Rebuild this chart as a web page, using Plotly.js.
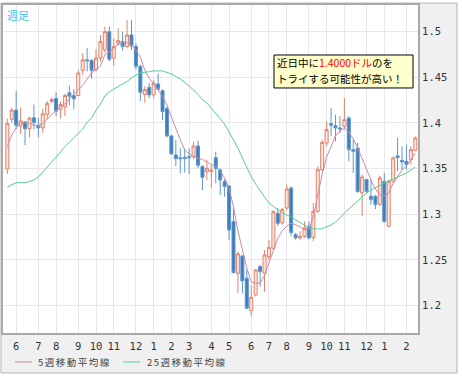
<!DOCTYPE html>
<html><head><meta charset="utf-8">
<script src="https://cdn.plot.ly/plotly-3.0.1.min.js"></script>
<style>html,body{margin:0;padding:0;background:#fff}#chart{width:462px;height:378px}</style>
</head><body><div id="chart"></div>
<script>
const weeks = [
'2009-05-18','2009-05-25','2009-06-01','2009-06-08','2009-06-15','2009-06-22','2009-06-29','2009-07-06','2009-07-13','2009-07-20',
'2009-07-27','2009-08-03','2009-08-10','2009-08-17','2009-08-24','2009-08-31','2009-09-07','2009-09-14','2009-09-21','2009-09-28',
'2009-10-05','2009-10-12','2009-10-19','2009-10-26','2009-11-02','2009-11-09','2009-11-16','2009-11-23','2009-11-30','2009-12-07',
'2009-12-14','2009-12-21','2009-12-28','2010-01-04','2010-01-11','2010-01-18','2010-01-25','2010-02-01','2010-02-08','2010-02-15',
'2010-02-22','2010-03-01','2010-03-08','2010-03-15','2010-03-22','2010-03-29','2010-04-05','2010-04-12','2010-04-19','2010-04-26',
'2010-05-03','2010-05-10','2010-05-17','2010-05-24','2010-05-31','2010-06-07','2010-06-14','2010-06-21','2010-06-28','2010-07-05',
'2010-07-12','2010-07-19','2010-07-26','2010-08-02','2010-08-09','2010-08-16','2010-08-23','2010-08-30','2010-09-06','2010-09-13',
'2010-09-20','2010-09-27','2010-10-04','2010-10-11','2010-10-18','2010-10-25','2010-11-01','2010-11-08','2010-11-15','2010-11-22',
'2010-11-29','2010-12-06','2010-12-13','2010-12-20','2010-12-27','2011-01-03','2011-01-10','2011-01-17','2011-01-24','2011-01-31',
'2011-02-07','2011-02-14','2011-02-21'];

const openP = [
1.3496,1.4040,1.4141,1.3967,1.4011,1.3938,1.4058,1.3975,1.3946,1.4094,
1.4232,1.4268,1.4149,1.4178,1.4330,1.4301,1.4301,1.4576,1.4692,1.4685,
1.4583,1.4710,1.4801,1.5000,1.4710,1.4873,1.4891,1.4837,1.4964,1.4837,
1.4620,1.4312,1.4391,1.4307,1.4427,1.4354,1.4161,1.3858,1.3650,1.3620,
1.3624,1.3631,1.3631,1.3748,1.3522,1.3467,1.3468,1.3620,1.3485,1.3358,
1.3310,1.2920,1.2354,1.2544,1.2299,1.1945,1.2117,1.2427,1.2354,1.2536,
1.2628,1.3011,1.2905,1.3069,1.3288,1.2777,1.2741,1.2759,1.2870,1.2745,
1.3033,1.3489,1.3781,1.3993,1.3971,1.3945,1.3964,1.4055,1.3708,1.3726,
1.3234,1.3380,1.3197,1.3197,1.3110,1.3360,1.2869,1.3361,1.3640,1.3591,
1.3580,1.3599,1.3701];
const highP = [
1.4047,1.4167,1.4348,1.4167,1.4022,1.4069,1.4203,1.4058,1.4156,1.4239,
1.4275,1.4337,1.4239,1.4319,1.4409,1.4373,1.4583,1.4764,1.4819,1.4699,
1.4808,1.4964,1.5054,1.5054,1.4928,1.5036,1.5000,1.5127,1.5127,1.4873,
1.4638,1.4402,1.4434,1.4471,1.4544,1.4369,1.4179,1.3869,1.3814,1.3723,
1.3723,1.3723,1.3796,1.3807,1.3540,1.3595,1.3540,1.3686,1.3504,1.3383,
1.3321,1.3066,1.2591,1.2555,1.2391,1.2226,1.2398,1.2445,1.2609,1.2719,
1.3040,1.3070,1.3069,1.3325,1.3307,1.2796,1.2814,1.2923,1.2923,1.3124,
1.3526,1.3818,1.4018,1.4164,1.4091,1.4073,1.4274,1.4073,1.3818,1.3781,
1.3434,1.3387,1.3380,1.3215,1.3423,1.3453,1.3380,1.3635,1.3840,1.3745,
1.3763,1.3745,1.3854];
const lowP = [
1.3442,1.4004,1.3931,1.3877,1.3757,1.3841,1.3931,1.3841,1.3895,1.4040,
1.4221,1.4076,1.4047,1.4076,1.4192,1.4149,1.4293,1.4529,1.4565,1.4482,
1.4565,1.4674,1.4764,1.4674,1.4627,1.4844,1.4793,1.4819,1.4801,1.4583,
1.4239,1.4221,1.4270,1.4270,1.4361,1.4033,1.3843,1.3650,1.3529,1.3449,
1.3456,1.3442,1.3602,1.3504,1.3266,1.3376,1.3285,1.3340,1.3212,1.3193,
1.2719,1.2354,1.2135,1.2135,1.1960,1.1880,1.2099,1.2208,1.2153,1.2500,
1.2610,1.2870,1.2887,1.3044,1.2760,1.2723,1.2723,1.2741,1.2723,1.2705,
1.3015,1.3471,1.3745,1.3854,1.3799,1.3891,1.3934,1.3580,1.3453,1.3234,
1.2978,1.3234,1.3106,1.3058,1.3090,1.2905,1.2861,1.3343,1.3470,1.3489,
1.3489,1.3544,1.3690];
const closeP = [
1.3996,1.4141,1.3975,1.4022,1.3938,1.4054,1.4004,1.3946,1.4101,1.4214,
1.4257,1.4130,1.4203,1.4301,1.4293,1.4264,1.4547,1.4692,1.4681,1.4576,
1.4710,1.4891,1.5000,1.4699,1.4837,1.4902,1.4837,1.4964,1.4844,1.4620,
1.4337,1.4366,1.4307,1.4434,1.4369,1.4124,1.3858,1.3661,1.3609,1.3609,
1.3609,1.3620,1.3748,1.3536,1.3405,1.3504,1.3485,1.3500,1.3376,1.3303,
1.2828,1.2361,1.2566,1.2270,1.1971,1.2091,1.2391,1.2372,1.2555,1.2639,
1.3029,1.2901,1.3051,1.3277,1.2800,1.2741,1.2759,1.2851,1.2741,1.3033,
1.3489,1.3788,1.3927,1.3974,1.3945,1.3934,1.4036,1.3708,1.3690,1.3250,
1.3409,1.3252,1.3161,1.3106,1.3398,1.2923,1.3361,1.3617,1.3620,1.3573,
1.3544,1.3708,1.3836];

const ma5 = [
1.3740,1.3869,1.3945,1.3995,1.4000,1.3997,1.3978,1.3967,1.3995,1.4044,
1.4088,1.4137,1.4175,1.4208,1.4263,1.4318,1.4367,1.4413,1.4482,1.4548,
1.4586,1.4624,1.4745,1.4778,1.4821,1.4865,1.4876,1.4880,1.4854,1.4800,
1.4720,1.4580,1.4490,1.4430,1.4362,1.4290,1.4197,1.4066,1.3934,1.3814,
1.3704,1.3660,1.3628,1.3617,1.3600,1.3573,1.3551,1.3521,1.3474,1.3398,
1.3288,1.3080,1.2817,1.2609,1.2412,1.2258,1.2244,1.2244,1.2335,1.2467,
1.2609,1.2740,1.2817,1.2872,1.2905,1.2883,1.2864,1.2828,1.2839,1.2974,
1.3211,1.3441,1.3628,1.3748,1.3858,1.3912,1.3942,1.3901,1.3825,1.3726,
1.3606,1.3485,1.3376,1.3277,1.3212,1.3200,1.3233,1.3340,1.3409,1.3485,
1.3529,1.3595,1.3671];
const ma25 = [
1.3299,1.3321,1.3346,1.3346,1.3346,1.3359,1.3376,1.3409,1.3463,1.3513,
1.3573,1.3631,1.3682,1.3743,1.3792,1.3836,1.3890,1.3934,1.4011,1.4055,
1.4142,1.4208,1.4296,1.4340,1.4372,1.4400,1.4433,1.4455,1.4493,1.4526,
1.4548,1.4559,1.4562,1.4570,1.4573,1.4570,1.4553,1.4537,1.4509,1.4482,
1.4444,1.4405,1.4361,1.4312,1.4257,1.4219,1.4164,1.4110,1.4055,1.3989,
1.3901,1.3814,1.3726,1.3617,1.3518,1.3412,1.3332,1.3255,1.3189,1.3124,
1.3080,1.3047,1.3014,1.2992,1.2970,1.2938,1.2910,1.2883,1.2855,1.2844,
1.2839,1.2844,1.2861,1.2883,1.2916,1.2959,1.3014,1.3058,1.3102,1.3146,
1.3189,1.3233,1.3266,1.3294,1.3321,1.3343,1.3365,1.3387,1.3409,1.3425,
1.3452,1.3485,1.3518];

const tickDates = ['2009-06-01','2009-07-06','2009-08-03','2009-09-07','2009-10-05','2009-11-02','2009-12-07',
'2010-01-04','2010-02-01','2010-03-01','2010-04-05','2010-05-03','2010-06-07','2010-07-05','2010-08-02',
'2010-09-06','2010-10-04','2010-11-01','2010-12-06','2011-01-03','2011-02-07'];
const tickLabels = ['6','7','8','9','10','11','12','1','2','3','4','5','6','7','8','9','10','11','12','1','2'];
const yTicks = [1.2,1.25,1.3,1.35,1.4,1.45,1.5];
const yTickLabels = ['1.2','1.25','1.3','1.35','1.4','1.45','1.5'];
const seriesNames = ['5週移動平均線','25週移動平均線'];
const seriesColors = ['#cf8aa3','#55cf93'];
const cornerLabel = '週足';
const noteLine1 = '近日中に<span style="color:#ff0000">1.4000ドル</span>のを';
const noteLine2 = 'トライする可能性が高い！';

const traces = [
  {type:'candlestick', x:weeks, open:openP, high:highP, low:lowP, close:closeP,
   increasing:{line:{color:'#e2826a', width:1}, fillcolor:'#fde6df'},
   decreasing:{line:{color:'#5d97cc', width:1}, fillcolor:'#3b7dbe'},
   whiskerwidth:0, showlegend:false, hoverinfo:'skip'},
  {type:'scatter', mode:'lines', x:weeks, y:ma5, name:seriesNames[0], showlegend:false,
   line:{color:seriesColors[0], width:1}, hoverinfo:'skip'},
  {type:'scatter', mode:'lines', x:weeks, y:ma25, name:seriesNames[1], showlegend:false,
   line:{color:seriesColors[1], width:1}, hoverinfo:'skip'}
];

const tickFont = {family:'DejaVu Sans Mono, monospace', size:10.5, color:'#333'};
const noteFont = {family:'Noto Sans CJK JP', size:10.5, color:'#000000'};
const legendFont = {family:'Noto Sans CJK JP', size:9.5, color:'#444'};
const legY = -0.0884;
const legendItems = [
  {x0:0.0289, x1:0.0699, tx:0.0819},
  {x0:0.2892, x1:0.3301, tx:0.3446}
];
const legendShapes = legendItems.map((it, k) => ({type:'line', xref:'paper', yref:'paper',
  x0:it.x0, x1:it.x1, y0:legY, y1:legY, line:{color:seriesColors[k], width:1}}));
const legendTexts = legendItems.map((it, k) => ({xref:'paper', yref:'paper', x:it.tx, y:legY,
  xanchor:'left', yanchor:'middle', showarrow:false, borderpad:0,
  text:'<span style="letter-spacing:1.5px">' + seriesNames[k] + '</span>', font:legendFont}));

const layout = {
  width:462, height:378,
  margin:{l:3, r:44, t:5, b:45},
  paper_bgcolor:'#ffffff', plot_bgcolor:'#ffffff',
  boxgap:0.32, boxgroupgap:0,
  showlegend:false,
  xaxis:{type:'date', range:['2009-05-11 05:00','2011-02-25 05:00'],
         tickmode:'array', tickvals:tickDates, ticktext:tickLabels,
         showgrid:true, gridcolor:'#e8e8e8', gridwidth:1,
         showline:true, linecolor:'#a9a9a9', linewidth:2, mirror:true,
         ticks:'', ticklabelstandoff:2, tickfont:tickFont,
         rangeslider:{visible:false}, fixedrange:true},
  yaxis:{side:'right', range:[1.17, 1.5292], tickmode:'array', tickvals:yTicks, ticktext:yTickLabels,
         showgrid:true, gridcolor:'#e8e8e8', gridwidth:1, zeroline:false,
         showline:true, linecolor:'#a9a9a9', linewidth:2, mirror:true,
         ticks:'', ticklabelstandoff:0, tickfont:tickFont, fixedrange:true},
  shapes:[
    {type:'rect', xref:'paper', yref:'paper', x0:-0.0048, x1:1.094, y0:-0.122, y1:1.006,
     fillcolor:'#f0f0f0', line:{color:'#b4b4b4', width:1}, layer:'below'},
    {type:'rect', xref:'paper', yref:'paper', x0:0, x1:1, y0:0, y1:1,
     fillcolor:'#ffffff', line:{width:0}, layer:'below'},
    {type:'rect', xref:'paper', yref:'paper', x0:0.653, x1:0.988, y0:0.747, y1:0.8476,
     fillcolor:'#ffffcc', line:{color:'#000000', width:1}, layer:'above'}
  ].concat(legendShapes),
  annotations:[
    {xref:'paper', yref:'paper', x:0.006, y:0.9994, xanchor:'left', yanchor:'top', showarrow:false,
     text:cornerLabel, font:{family:'Noto Sans CJK JP', size:11, color:'#3cc3f3'}},
    {xref:'paper', yref:'paper', x:0.658, y:0.8232, xanchor:'left', yanchor:'middle', showarrow:false,
     text:noteLine1, align:'left', borderpad:0, font:noteFont},
    {xref:'paper', yref:'paper', x:0.658, y:0.7759, xanchor:'left', yanchor:'middle', showarrow:false,
     text:noteLine2, align:'left', borderpad:0, font:noteFont}
  ].concat(legendTexts)
};
Plotly.newPlot('chart', traces, layout, {staticPlot:true, displayModeBar:false});
</script></body></html>
